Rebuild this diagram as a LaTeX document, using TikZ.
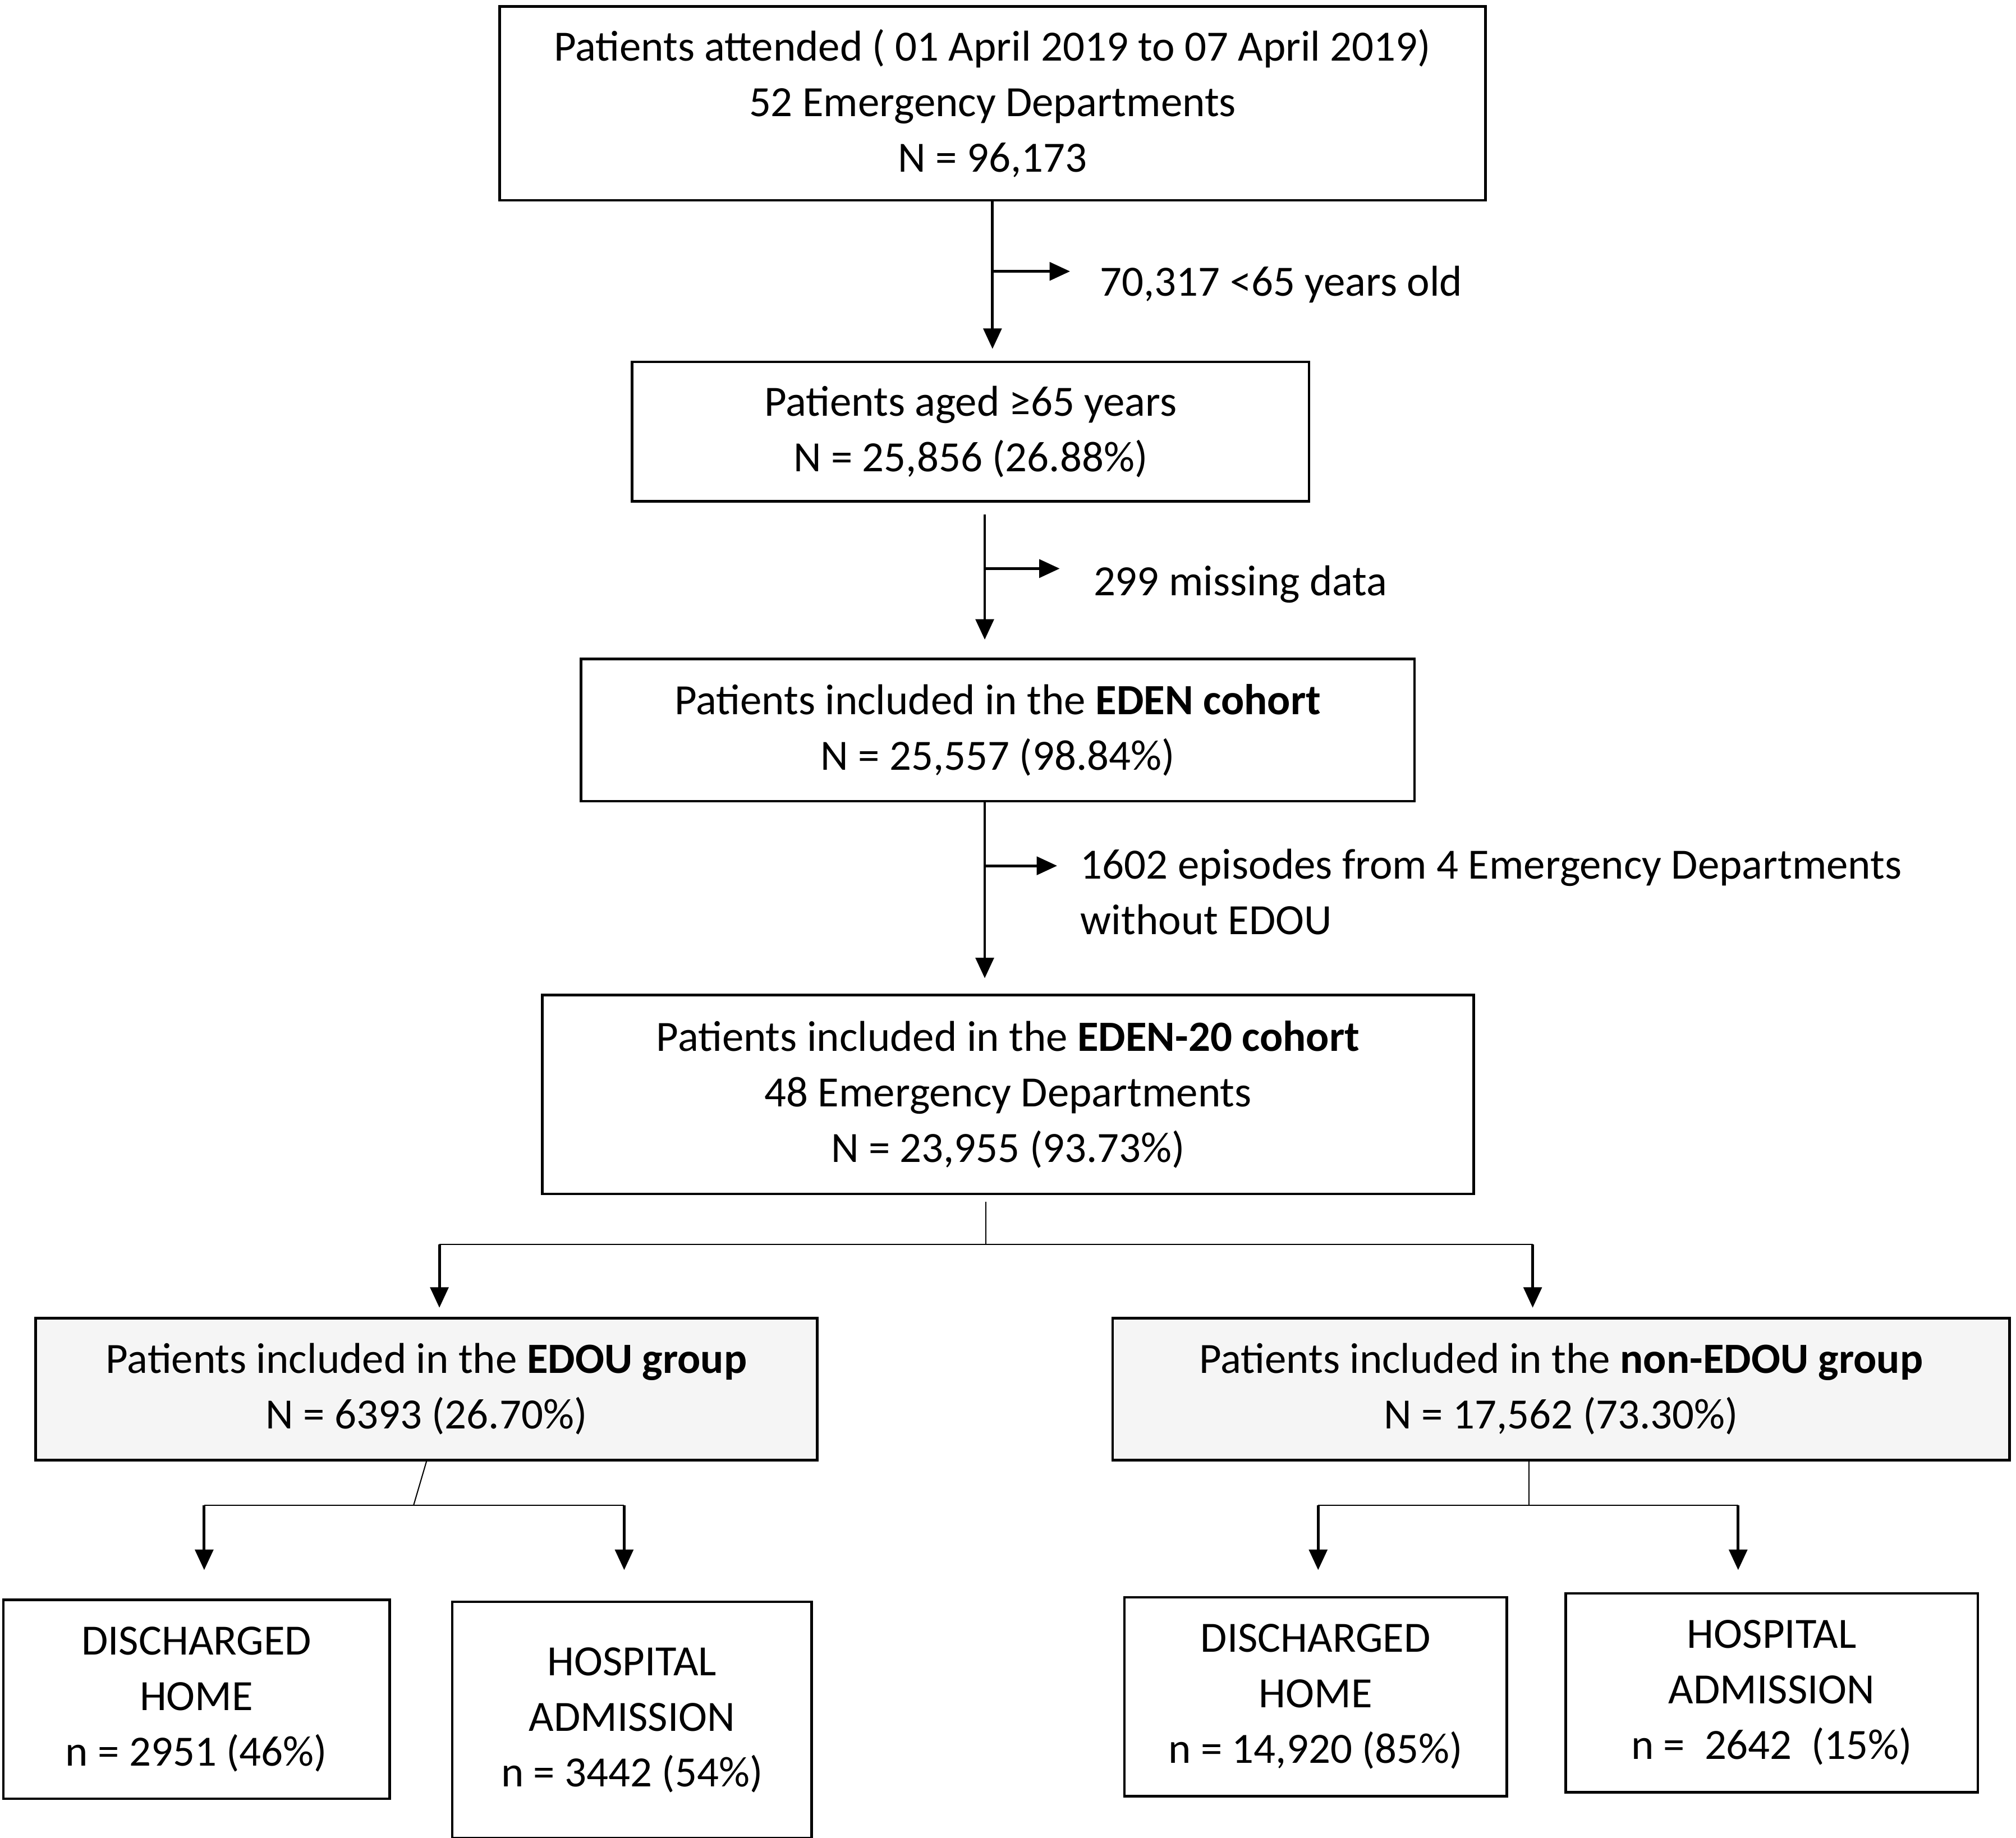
\documentclass[tikz,border=0pt]{standalone}
\usepackage{fontspec}
\setmainfont{Carlito}
\usetikzlibrary{positioning, arrows.meta}

\begin{document}
\begin{tikzpicture}[
    x=0.02cm, y=-0.02cm,
    font=\fontsize{19}{24.5}\selectfont,
    box/.style={draw, line width=1.1pt, align=center, inner sep=0pt},
    group/.style={box, fill=gray!8},
    flow/.style={line width=1.2pt, -{Triangle[length=9pt, width=8pt]}},
    split/.style={line width=0.5pt},
    note/.style={anchor=west, align=left}
]
    \useasboundingbox (0,0) rectangle (1560,1422);
    % Main flow
    \node[box, minimum width=15.26cm, minimum height=3cm] (attended) at (768,80)
        {Patients attended ( 01 April 2019 to 07 April 2019)\\52 Emergency Departments\\N = 96,173};
    \node[box, minimum width=10.48cm, minimum height=2.16cm] (aged) at (751,334)
        {Patients aged ≥65 years\\N = 25,856 (26.88\%)};
    \node[box, minimum width=12.9cm, minimum height=2.2cm] (eden) at (772,565)
        {Patients included in the \textbf{EDEN cohort}\\N = 25,557 (98.84\%)};
    \node[box, minimum width=14.42cm, minimum height=3.08cm] (eden20) at (780,847)
        {Patients included in the \textbf{EDEN-20 cohort}\\48 Emergency Departments\\N = 23,955 (93.73\%)};

    % Groups
    \node[group, minimum width=12.1cm, minimum height=2.2cm] (edou) at (330,1075)
        {Patients included in the \textbf{EDOU group}\\N = 6393 (26.70\%)};
    \node[group, minimum width=13.88cm, minimum height=2.2cm] (nonedou) at (1208,1075)
        {Patients included in the \textbf{non-EDOU group}\\N = 17,562 (73.30\%)};

    % Outcomes
    \node[box, minimum width=5.98cm, minimum height=3.08cm] (edouhome) at (152,1315)
        {DISCHARGED\\HOME\\n = 2951 (46\%)};
    \node[box, minimum width=5.56cm, minimum height=3.66cm] (edouadm) at (489,1331)
        {HOSPITAL\\ADMISSION\\n = 3442 (54\%)};
    \node[box, minimum width=5.92cm, minimum height=3.08cm] (nonhome) at (1018,1313)
        {DISCHARGED\\HOME\\n = 14,920 (85\%)};
    \node[box, minimum width=6.38cm, minimum height=3.08cm] (nonadm) at (1371,1310)
        {HOSPITAL\\ADMISSION\\n =~ 2642 ~(15\%)};

    % Exclusions
    \coordinate (a1) at (768,155);
    \coordinate (a2) at (768,270);
    \coordinate (b1) at (768,210);
    \coordinate (b2) at (828,210);
    \node[note] (young) at (845,220) {70,317 <65 years old};
    \draw[flow] (a1) -- (a2);
    \draw[flow] (b1) -- (b2);

    \coordinate (c1) at (762,398);
    \coordinate (c2) at (762,495);
    \coordinate (d1) at (762,440);
    \coordinate (d2) at (820,440);
    \node[note] (missing) at (840,452) {299 missing data};
    \draw[flow] (c1) -- (c2);
    \draw[flow] (d1) -- (d2);

    \coordinate (e1) at (762,620);
    \coordinate (e2) at (762,757);
    \coordinate (f1) at (762,670);
    \coordinate (f2) at (818,670);
    \node[note] (episodes) at (830,690) {1602 episodes from 4 Emergency Departments\\without EDOU};
    \draw[flow] (e1) -- (e2);
    \draw[flow] (f1) -- (f2);

    % Splits
    \draw[split] (763,930) -- (763,963);
    \draw[split] (340,963) -- (1186,963);
    \draw[flow] (340,963) -- (340,1012);
    \draw[flow] (1186,963) -- (1186,1012);

    \draw[split] (edou.south) -- (320,1165);
    \draw[split] (158,1165) -- (483,1165);
    \draw[flow] (158,1165) -- (158,1215);
    \draw[flow] (483,1165) -- (483,1215);

    \draw[split] (1183,1130) -- (1183,1165);
    \draw[split] (1020,1165) -- (1345,1165);
    \draw[flow] (1020,1165) -- (1020,1215);
    \draw[flow] (1345,1165) -- (1345,1215);
\end{tikzpicture}
\end{document}
